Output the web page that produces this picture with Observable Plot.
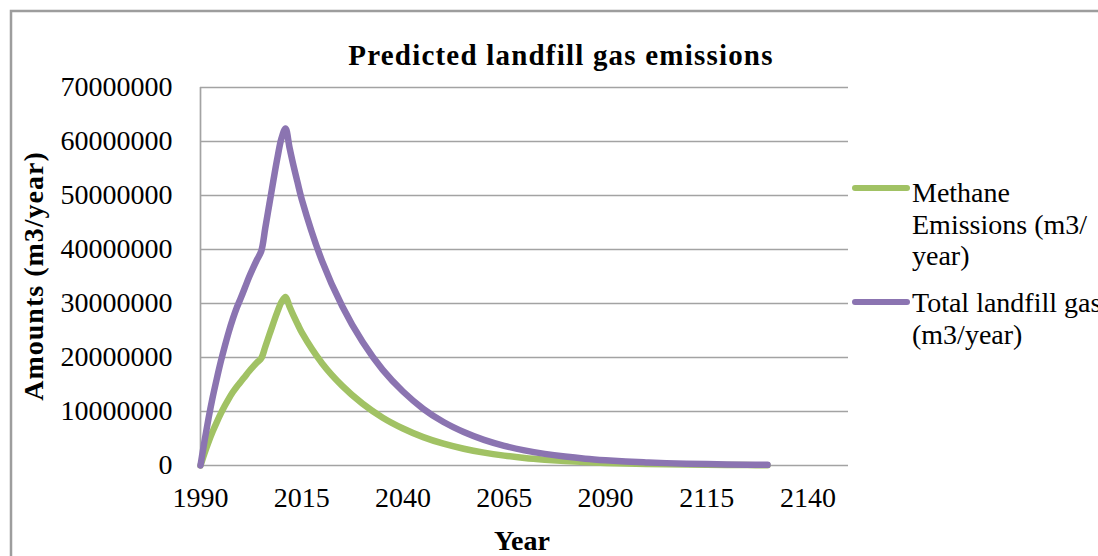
<!DOCTYPE html>
<html>
<head>
<meta charset="utf-8">
<script src="https://cdn.jsdelivr.net/npm/d3@7"></script>
<script src="https://cdn.jsdelivr.net/npm/@observablehq/plot@0.6"></script>
<style>
  html, body { margin: 0; padding: 0; background: #fff; overflow: hidden; }
  #chart { position: relative; width: 1098px; height: 556px; }
  #chart > svg { position: absolute; left: 0; top: 0; }
</style>
</head>
<body>
<div id="chart"></div>
<script>
// Yearly values while the site is filling, then every five years of decay.
const years = [
  1990, 1991, 1992, 1993, 1994, 1995, 1996, 1997, 1998, 1999,
  2000, 2001, 2002, 2003, 2004, 2005, 2006, 2007, 2008, 2009,
  2010, 2011, 2012, 2013, 2014, 2015, 2020, 2025, 2030, 2035,
  2040, 2045, 2050, 2055, 2060, 2065, 2070, 2075, 2080, 2085,
  2090, 2095, 2100, 2105, 2110, 2115, 2120, 2125, 2130
];

// Methane emissions, m3/year
const methane = [
  0, 2300000, 4400000, 6300000, 8000000, 9600000, 11050000, 12400000, 13600000, 14650000,
  15550000, 16500000, 17450000, 18300000, 19100000, 19850000, 22000000, 24200000, 26400000, 28500000,
  30300000, 31200000, 29400000, 27700000, 26150000, 24650000, 18950000, 14750000, 11450000, 8850000,
  6850000, 5250000, 4030000, 3100000, 2380000, 1830000, 1400000, 1080000, 830000, 630000,
  485000, 370000, 285000, 220000, 170000, 130000, 100000, 75000, 60000
];

// Total landfill gas, m3/year
const totalGas = [
  0, 4600000, 8800000, 12600000, 16000000, 19200000, 22100000, 24800000, 27200000, 29300000,
  31100000, 33000000, 34900000, 36600000, 38200000, 39700000, 44000000, 48400000, 52800000, 57000000,
  60600000, 62400000, 58800000, 55400000, 52300000, 49300000, 37900000, 29500000, 22900000, 17700000,
  13700000, 10500000, 8050000, 6200000, 4750000, 3650000, 2800000, 2150000, 1650000, 1260000,
  970000, 740000, 570000, 440000, 340000, 260000, 200000, 150000, 120000
];

const xTicks = [1990, 2015, 2040, 2065, 2090, 2115, 2140];
const yTicks = [0, 10000000, 20000000, 30000000, 40000000, 50000000, 60000000, 70000000];

const seriesNames = ["Methane Emissions (m3/year)", "Total landfill gas (m3/year)"];
const seriesColors = ["#a1c264", "#8b74b1"];
const gridGray = "#a3a3a3";

const rows = years.flatMap((year, i) => [
  {year, value: methane[i], series: seriesNames[0]},
  {year, value: totalGas[i], series: seriesNames[1]}
]);

const W = 1098, H = 556;
const M = {left: 200, right: 250, top: 87, bottom: 91};

const plot = Plot.plot({
  width: W,
  height: H,
  marginLeft: M.left,
  marginRight: M.right,
  marginTop: M.top,
  marginBottom: M.bottom,
  style: {
    fontFamily: "'Liberation Serif', 'Times New Roman', serif",
    fontSize: "28px",
    color: "#000",
    background: "transparent",
    overflow: "visible"
  },
  x: {domain: [1990, 2150]},
  y: {domain: [0, 70000000]},
  color: {domain: seriesNames, range: seriesColors},
  marks: [
    Plot.ruleY(yTicks, {stroke: gridGray, strokeWidth: 1.7}),
    Plot.ruleX([1990], {stroke: gridGray, strokeWidth: 1.7}),
    Plot.axisY(yTicks, {tickSize: 0, tickPadding: 28, tickFormat: d => String(d), label: null}),
    Plot.axisX(xTicks, {tickSize: 0, tickPadding: 22, tickFormat: d => String(d), label: null}),
    Plot.line(rows, {
      x: "year", y: "value", z: "series", stroke: "series",
      strokeWidth: 6.5, curve: "catmull-rom",
      strokeLinecap: "round", strokeLinejoin: "round"
    })
  ]
});

const chart = document.getElementById("chart");
chart.appendChild(plot);

// Frame, titles and legend drawn on top of the plot
const overlay = d3.select(chart).append("svg")
  .attr("width", W).attr("height", H)
  .style("pointer-events", "none")
  .attr("font-family", "'Liberation Serif', 'Times New Roman', serif")
  .attr("fill", "#000");

overlay.append("path")
  .attr("d", `M11,${H + 10}V11H${W + 10}`)
  .attr("fill", "none").attr("stroke", "#9d9d9d").attr("stroke-width", 2.5);

overlay.append("text")
  .attr("x", 561).attr("y", 65)
  .attr("text-anchor", "middle")
  .attr("font-size", 29).attr("font-weight", "bold")
  .attr("letter-spacing", 1.2)
  .text("Predicted landfill gas emissions");

overlay.append("text")
  .attr("transform", "translate(43,276) rotate(-90)")
  .attr("text-anchor", "middle")
  .attr("font-size", 28).attr("font-weight", "bold")
  .attr("letter-spacing", 1)
  .text("Amounts (m3/year)");

overlay.append("text")
  .attr("x", 522).attr("y", 550)
  .attr("text-anchor", "middle")
  .attr("font-size", 28).attr("font-weight", "bold")
  .text("Year");

const legendItems = [
  {color: seriesColors[0], lineY: 188, lines: ["Methane", "Emissions (m3/", "year)"], firstBaseline: 202},
  {color: seriesColors[1], lineY: 302, lines: ["Total landfill gas", "(m3/year)"], firstBaseline: 312}
];
legendItems.forEach(item => {
  overlay.append("line")
    .attr("x1", 855).attr("x2", 907)
    .attr("y1", item.lineY).attr("y2", item.lineY)
    .attr("stroke", item.color).attr("stroke-width", 6)
    .attr("stroke-linecap", "round");
  item.lines.forEach((t, j) => {
    overlay.append("text")
      .attr("x", 912).attr("y", item.firstBaseline + j * 31.5)
      .attr("font-size", 28)
      .text(t);
  });
});
</script>
</body>
</html>
